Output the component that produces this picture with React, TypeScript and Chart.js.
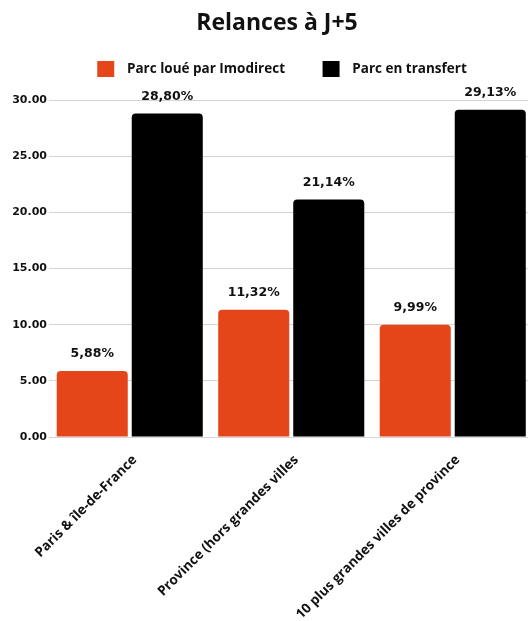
import React, { useEffect, useRef } from "react";
import { Chart, registerables } from "chart.js";

Chart.register(...registerables);

const categories = [
  "Paris & île-de-France",
  "Province (hors grandes villes",
  "10 plus grandes villes de province",
];
const seriesNames = ["Parc loué par Imodirect", "Parc en transfert"];
const parcLoue = [5.88, 11.32, 9.99];
const parcTransfert = [28.8, 21.14, 29.13];
const yMin = 0;
const yMax = 30;
const yStep = 5;
const seriesColors = ["#E4461A", "#000000"];
const titleText = "Relances à J+5";

// legend swatch: transparent left margin, 17x16 coloured box, transparent right margin
function makeSwatch(color: string) {
  const c = document.createElement("canvas");
  c.width = 10 + 17 + 6;
  c.height = 16;
  const ctx = c.getContext("2d")!;
  ctx.fillStyle = color;
  ctx.fillRect(10, 0, 17, 16);
  return c;
}

const valueLabels = {
  id: "valueLabels",
  afterDatasetsDraw(chart: any) {
    const ctx = chart.ctx;
    ctx.save();
    ctx.font = "bold 12.5px 'DejaVu Sans'";
    ctx.fillStyle = "#111111";
    ctx.textAlign = "center";
    ctx.textBaseline = "middle";
    chart.data.datasets.forEach((ds: any, di: number) => {
      chart.getDatasetMeta(di).data.forEach((bar: any, i: number) => {
        const v = ds.data[i] as number;
        ctx.fillText(v.toFixed(2).replace(".", ",") + "%", bar.x, bar.y - 17);
      });
    });
    ctx.restore();
  },
};

export default function App() {
  const ref = useRef<HTMLCanvasElement | null>(null);

  useEffect(() => {
    if (!ref.current) return;
    const swatches = seriesColors.map(makeSwatch);
    const barOpts = {
      borderRadius: 4,
      borderSkipped: "start",
      categoryPercentage: 0.929,
      barPercentage: 0.947,
    };
    const chart = new Chart(ref.current, {
      type: "bar",
      data: {
        labels: categories,
        datasets: [
          { label: seriesNames[0], data: parcLoue, backgroundColor: seriesColors[0], ...barOpts },
          { label: seriesNames[1], data: parcTransfert, backgroundColor: seriesColors[1], ...barOpts },
        ],
      },
      options: {
        responsive: false,
        animation: false,
        layout: { padding: { left: 0, right: 0, top: 0, bottom: 0 } },
        plugins: {
          title: {
            display: true,
            text: titleText,
            color: "#111111",
            font: { family: "'Open Sans'", size: 23, weight: "bold", lineHeight: 1.0 },
            padding: { top: 11.5, bottom: 0.25 },
          },
          subtitle: {
            display: true,
            text: "",
            weight: 500,
            font: { size: 10, lineHeight: 1 },
            padding: { top: 0, bottom: 4.25 },
          },
          legend: {
            display: true,
            position: "top",
            labels: {
              usePointStyle: true,
              pointStyleWidth: 33,
              padding: 27.5,
              color: "#111111",
              font: { family: "'Open Sans'", size: 13.5, weight: "bold" },
              generateLabels: (c: any) => {
                const items = (Chart.defaults.plugins.legend.labels as any).generateLabels(c);
                return items.map((it: any, i: number) => ({ ...it, pointStyle: swatches[i] }));
              },
            },
          },
          tooltip: { enabled: false },
        },
        scales: {
          x: {
            grid: { display: false, drawTicks: false },
            border: { display: false },
            ticks: {
              autoSkip: false,
              minRotation: 45,
              maxRotation: 45,
              padding: 15,
              labelOffset: 5,
              color: "#111111",
              font: { family: "'Open Sans'", size: 13.5, weight: "bold" },
            },
            afterFit: (scale: any) => {
              scale.height = 184;
            },
          },
          y: {
            min: yMin,
            max: yMax,
            grid: { color: "#d4d4d4", lineWidth: 1, drawTicks: false },
            border: { display: false },
            ticks: {
              stepSize: yStep,
              padding: 2,
              color: "#111111",
              font: { family: "'DejaVu Sans'", size: 11, weight: "bold" },
              callback: (v: any) => Number(v).toFixed(2),
            },
            afterFit: (scale: any) => {
              scale.width = 49;
            },
          },
          yRight: {
            type: "linear",
            position: "right",
            display: true,
            grid: { display: false, drawTicks: false },
            border: { display: false },
            ticks: { display: false },
            afterFit: (scale: any) => {
              scale.width = 20.5;
            },
          },
        },
      },
      plugins: [valueLabels],
    });
    return () => chart.destroy();
  }, []);

  return (
    <div
      style={{
        position: "fixed",
        left: 0,
        top: 0,
        width: 528,
        height: 621,
        overflow: "hidden",
        background: "#ffffff",
      }}
    >
      <canvas ref={ref} width={554} height={621} style={{ display: "block", width: 554, height: 621 }} />
    </div>
  );
}
